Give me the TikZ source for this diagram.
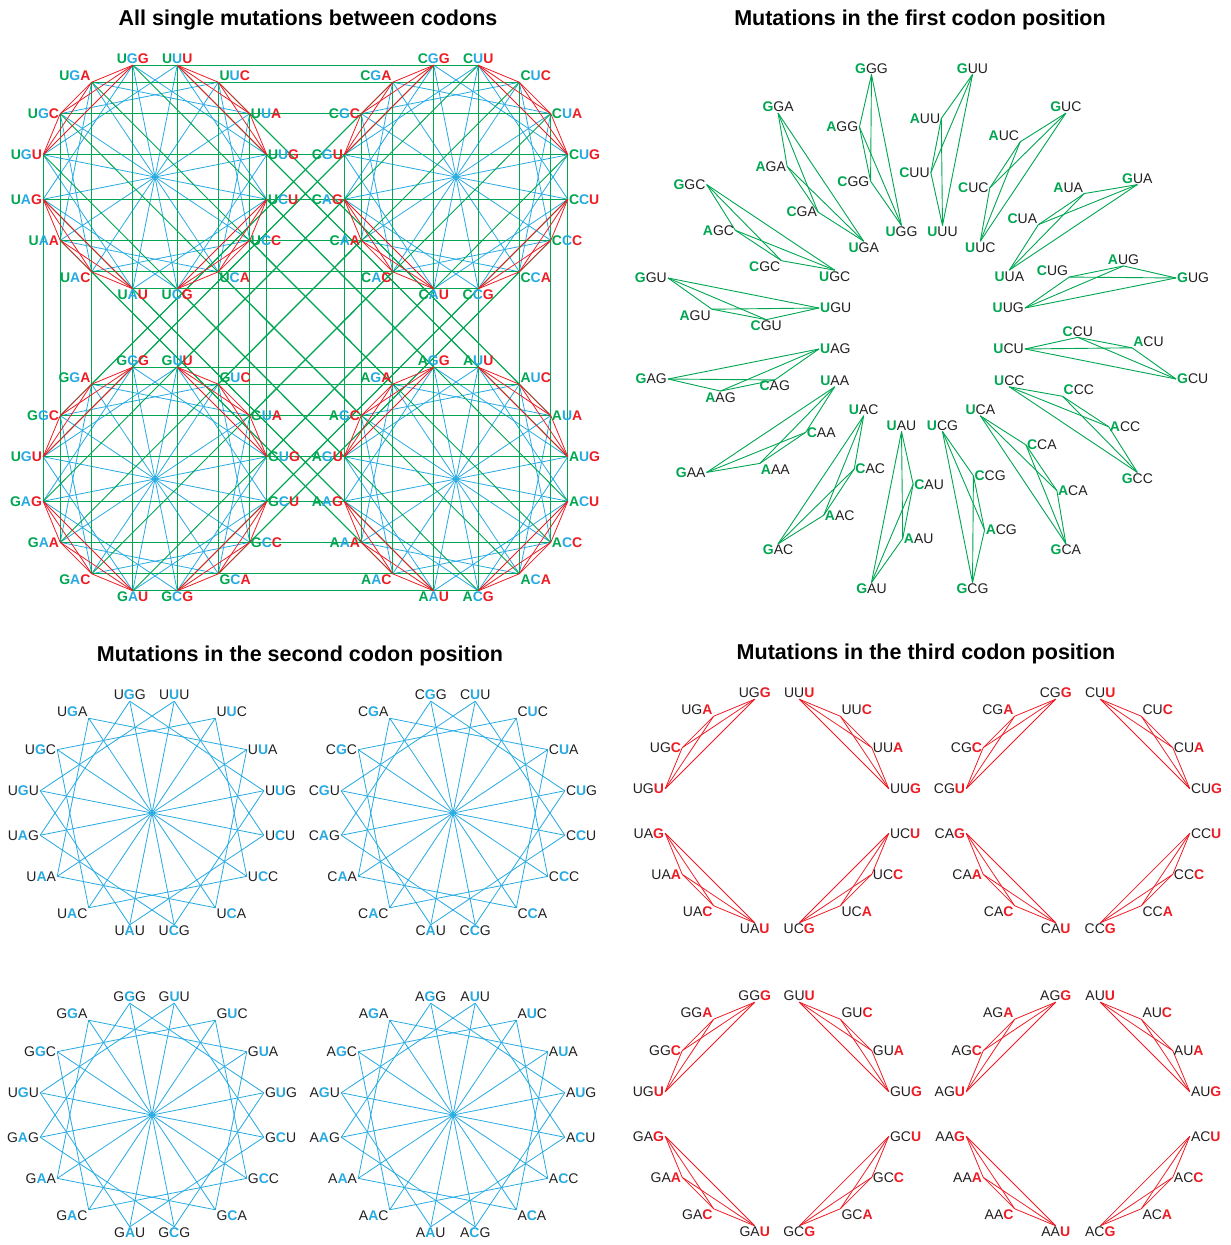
\documentclass[tikz,border=0pt]{standalone}
\usepackage{fontspec}
\setmainfont{Liberation Sans}
\usepackage{xcolor}
\usepackage{tikz}
\usetikzlibrary{calc}

\definecolor{cgreen}{RGB}{0,166,81}
\definecolor{cblue}{RGB}{38,170,226}
\definecolor{cred}{RGB}{237,28,36}
\definecolor{ctext}{RGB}{35,31,32}

% second/third letters round a ring, with the anchor of each label
\def\suffixes{G/G/south, U/U/south, U/C/south west, U/A/west, U/G/west, C/U/west, C/C/west, C/A/north west, C/G/north, A/U/north, A/C/north east, A/A/east, A/G/east, G/U/east, G/C/east, G/A/south east}

\newcommand\fmtall[3]{\bfseries\textcolor{cgreen}{#1}\textcolor{cblue}{#2}\textcolor{cred}{#3}}
\newcommand\fmtfirst[3]{\textbf{\textcolor{cgreen}{#1}}#2#3}
\newcommand\fmtsecond[3]{#1\textbf{\textcolor{cblue}{#2}}#3}
\newcommand\fmtthird[3]{#1#2\textbf{\textcolor{cred}{#3}}}

% points of one ring: #1 prefix, #2 first letter, #3/#4 centre
\newcommand\ringpoints[4]{%
  \foreach \ltwo/\lthree/\anc [count=\i from 0] in \suffixes {
    \pgfmathsetmacro\ang{101.25-22.5*\i}
    \coordinate (#1-#2-\i) at ({#3+114*cos(\ang)},{#4-114*sin(\ang)});
  }}
% labels of one ring: #1 prefix, #2 first letter, #3 format
% (the G rings print UGU at place 13, as the original does)
\newcommand\ringlabels[3]{%
  \foreach \ltwo/\lthree/\anc [count=\i from 0] in \suffixes {
    \edef\lone{#2}\def\tmpg{G}%
    \ifnum\i=13 \ifx\lone\tmpg\def\lone{U}\fi\fi
    \node[codon, anchor=\anc] (#1-#2-\i-lab) at (#1-#2-\i) {#3{\lone}{\ltwo}{\lthree}};
  }}
% second position: squares and diameters
\newcommand\secondedges[2]{%
  \foreach \i in {0,...,15}{
    \pgfmathtruncatemacro\jj{mod(\i+4,16)}
    \draw[secondpos] (#1-#2-\i) -- (#1-#2-\jj);}
  \foreach \i in {0,...,7}{
    \pgfmathtruncatemacro\jj{\i+8}
    \draw[secondpos] (#1-#2-\i) -- (#1-#2-\jj);}
}
% third position: four small cliques
\newcommand\thirdedges[2]{%
  \foreach \s in {1,5,9,13}{
    \foreach \p/\q in {0/1,0/2,0/3,1/2,1/3,2/3}{
      \pgfmathtruncatemacro\jj{mod(\s+\p,16)}
      \pgfmathtruncatemacro\kk{mod(\s+\q,16)}
      \draw[thirdpos] (#1-#2-\jj) -- (#1-#2-\kk);}}
}

\begin{document}
\begin{tikzpicture}[x=1pt, y=-1pt,
  paneltitle/.style={font=\fontsize{21.5}{24}\selectfont\bfseries},
  codon/.style={font=\fontsize{14}{16}\selectfont, text=ctext, inner sep=1pt},
  firstpos/.style={draw=cgreen, line width=0.9pt},
  secondpos/.style={draw=cblue, line width=0.8pt},
  thirdpos/.style={draw=cred, line width=0.8pt}]
\useasboundingbox (0,0) rectangle (1231,1245);

% titles
\node[paneltitle] (t-all) at (308,20) {All single mutations between codons};
\node[paneltitle] (t-first) at (920,20) {Mutations in the first codon position};
\node[paneltitle] (t-second) at (300,656) {Mutations in the second codon position};
\node[paneltitle] (t-third) at (926,654) {Mutations in the third codon position};

% all single mutations
\foreach \fl/\cx/\cy in {U/155/177, C/456/177, G/155/479, A/456/479}{
  \ringpoints{a}{\fl}{\cx}{\cy}}
\foreach \fl in {U,C,G,A}{\secondedges{a}{\fl}}
\foreach \i in {0,...,15}{
  \foreach \x/\y in {U/C,G/A,U/G,C/A,U/A,C/G}{
    \draw[firstpos] (a-\x-\i) -- (a-\y-\i);}}
\foreach \fl in {U,C,G,A}{\thirdedges{a}{\fl}}
\foreach \fl in {U,C,G,A}{\ringlabels{a}{\fl}{\fmtall}}

% first position
\foreach \ltwo/\lthree/\aG/\aA/\aC/\aU [count=\i from 0] in {
  G/G/south/east/east/north, U/U/south/east/east/north,
  U/C/south/south east/east/north, U/A/south/south east/south east/north,
  U/G/west/south/south east/east, C/U/west/south west/south/east,
  C/C/north/west/south west/south, C/A/north/west/west/south,
  C/G/north/west/west/south, A/U/north/west/west/south,
  A/C/north/west/west/south, A/A/east/north west/west/south,
  A/G/east/north/north/west, G/U/east/north east/north/west,
  G/C/east/east/north east/north, G/A/south/east/east/north}{
  \pgfmathsetmacro\ang{101.25-22.5*\i}
  \coordinate (f-G-\i) at ({922+259*cos(\ang)},{328.5-259*sin(\ang)});
  \coordinate (f-A-\i) at ({922+211*cos(\ang+6)},{328.5-211*sin(\ang+6)});
  \coordinate (f-C-\i) at ({922+156*cos(\ang+8)},{328.5-156*sin(\ang+8)});
  \coordinate (f-U-\i) at ({922+105*cos(\ang)},{328.5-105*sin(\ang)});
  \foreach \x/\y in {G/A,G/C,G/U,A/C,A/U,C/U}{
    \draw[firstpos] (f-\x-\i) -- (f-\y-\i);}
  \node[codon, anchor=\aG] (f-G-\i-lab) at (f-G-\i) {\fmtfirst{G}{\ltwo}{\lthree}};
  \node[codon, anchor=\aA] (f-A-\i-lab) at (f-A-\i) {\fmtfirst{A}{\ltwo}{\lthree}};
  \node[codon, anchor=\aC] (f-C-\i-lab) at (f-C-\i) {\fmtfirst{C}{\ltwo}{\lthree}};
  \node[codon, anchor=\aU] (f-U-\i-lab) at (f-U-\i) {\fmtfirst{U}{\ltwo}{\lthree}};
}

% second position
\foreach \fl/\cx/\cy in {U/152/813, C/453/813, G/152/1115, A/453/1115}{
  \ringpoints{s}{\fl}{\cx}{\cy}
  \secondedges{s}{\fl}
  \ringlabels{s}{\fl}{\fmtsecond}}

% third position
\foreach \fl/\cx/\cy in {U/777/811, C/1078/811, G/777/1114, A/1078/1114}{
  \ringpoints{h}{\fl}{\cx}{\cy}
  \thirdedges{h}{\fl}
  \ringlabels{h}{\fl}{\fmtthird}}
\end{tikzpicture}
\end{document}
